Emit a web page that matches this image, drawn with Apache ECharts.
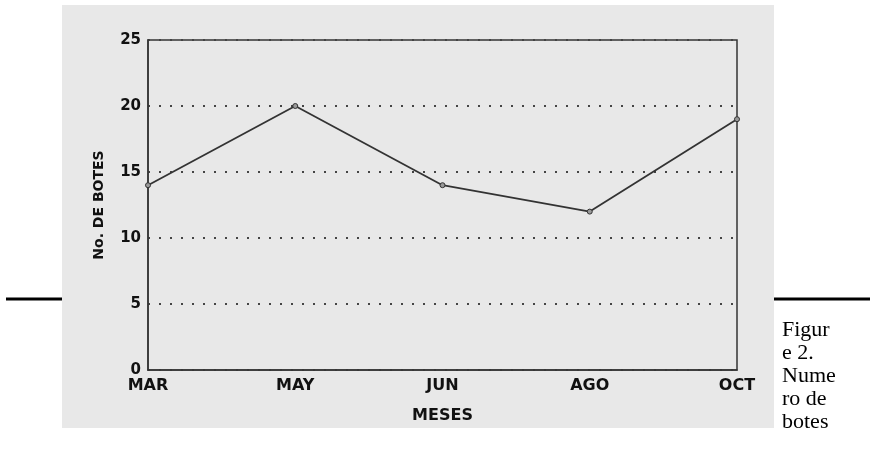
<!DOCTYPE html>
<html>
<head>
<meta charset="utf-8">
<script src="https://cdn.jsdelivr.net/npm/echarts@6/dist/echarts.min.js"></script>
<style>
html,body{margin:0;padding:0;background:#ffffff;}
#chart{width:870px;height:465px;}
</style>
</head>
<body>
<div id="chart"></div>
<script>
var months = ['MAR', 'MAY', 'JUN', 'AGO', 'OCT'];
var boats = [14, 20, 14, 12, 19];
var yTicks = [0, 5, 10, 15, 20, 25];
var captionLines = ['Figur', 'e 2.', 'Nume', 'ro de', 'botes'];

var chart = echarts.init(document.getElementById('chart'), null, {renderer: 'canvas'});
var labelFont = 'DejaVu Sans';
chart.setOption({
  animation: false,
  backgroundColor: '#ffffff',
  graphic: [
    {type: 'rect', z: -10, silent: true, shape: {x: 62, y: 5, width: 712, height: 423}, style: {fill: '#e8e8e8'}},
    {type: 'line', silent: true, shape: {x1: 6, y1: 299, x2: 62, y2: 299}, style: {stroke: '#000', lineWidth: 3}},
    {type: 'line', silent: true, shape: {x1: 774, y1: 299, x2: 870, y2: 299}, style: {stroke: '#000', lineWidth: 3}},
    {type: 'text', silent: true, left: 782, top: 319,
      style: {text: captionLines.join('\n'), font: '22px "Liberation Serif"', lineHeight: 23, fill: '#000'}}
  ],
  grid: {left: 148, top: 40, right: 133, bottom: 95, show: true, borderColor: '#333', borderWidth: 1.5, backgroundColor: 'transparent'},
  xAxis: {
    type: 'category',
    data: months,
    boundaryGap: false,
    name: 'MESES',
    nameLocation: 'middle',
    nameGap: 38,
    nameTextStyle: {fontFamily: labelFont, fontWeight: 'bold', fontSize: 16, color: '#111'},
    axisLine: {lineStyle: {color: '#333', width: 1.5}},
    axisTick: {show: false},
    axisLabel: {fontFamily: labelFont, fontWeight: 'bold', fontSize: 16, color: '#111', margin: 8}
  },
  yAxis: {
    type: 'value',
    min: yTicks[0],
    max: yTicks[yTicks.length - 1],
    interval: yTicks[1] - yTicks[0],
    name: 'No. DE BOTES',
    nameLocation: 'middle',
    nameGap: 42,
    nameTextStyle: {fontFamily: labelFont, fontWeight: 'bold', fontSize: 14, color: '#111'},
    axisLine: {show: true, lineStyle: {color: '#333', width: 1.5}},
    axisTick: {show: false},
    axisLabel: {fontFamily: labelFont, fontWeight: 'bold', fontSize: 15, color: '#111', margin: 7},
    splitLine: {show: true, lineStyle: {color: '#444', width: 2, type: [2, 9]}}
  },
  series: [{
    type: 'line',
    data: boats,
    symbol: 'circle',
    symbolSize: 5,
    itemStyle: {color: '#999', borderColor: '#333', borderWidth: 1},
    lineStyle: {color: '#333', width: 1.8},
    label: {show: false}
  }]
});
</script>
</body>
</html>
